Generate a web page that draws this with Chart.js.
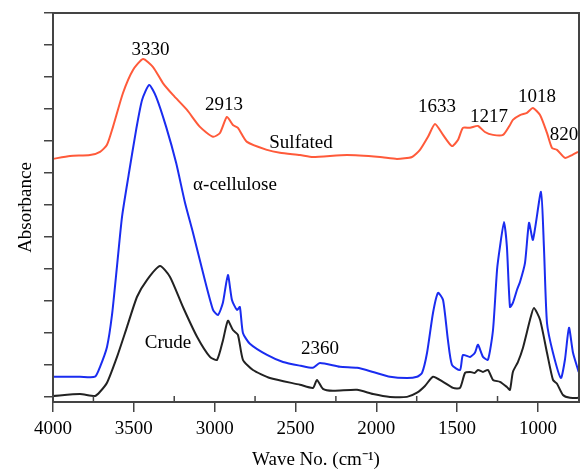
<!DOCTYPE html>
<html>
<head>
<meta charset="utf-8">
<script src="https://cdn.jsdelivr.net/npm/chart.js@4"></script>
<style>
  body { margin: 0; background: #fff; }
  #wrap { width: 582px; height: 470px; }
</style>
</head>
<body>
<div id="wrap"><canvas id="ftir" width="582" height="470"></canvas></div>
<script>
// FTIR spectra (wave number, relative absorbance)
var sulfWave = [4000,3895,3771,3709,3666,3629,3567,3505,3443,3381,3320,3258,3171,3091,3010,2967,2924,2887,2856,2800,2676,2596,2472,2392,2181,1977,1872,1779,1730,1680,1637,1587,1532,1495,1464,1420,1371,1328,1278,1216,1173,1155,1111,1068,1031,987,944,913,882,833,789,752];
var sulfAbs = [7.44,7.53,7.56,7.66,7.88,8.44,9.50,10.22,10.56,10.31,9.81,9.44,8.97,8.44,8.13,8.25,8.75,8.50,8.41,7.97,7.72,7.63,7.56,7.50,7.56,7.50,7.44,7.50,7.72,8.13,8.53,8.19,7.84,8.03,8.41,8.41,8.47,8.28,8.19,8.19,8.50,8.66,8.81,8.88,9.03,8.81,8.25,7.78,7.72,7.47,7.56,7.66];

var celWave = [4000,3833,3740,3709,3666,3635,3604,3573,3530,3486,3449,3405,3362,3300,3238,3183,3134,3072,3010,2979,2949,2918,2893,2862,2844,2825,2782,2676,2577,2466,2392,2349,2225,2119,2020,1915,1810,1748,1717,1686,1649,1618,1587,1557,1532,1482,1464,1420,1390,1371,1340,1309,1278,1253,1235,1210,1192,1173,1155,1130,1111,1080,1055,1031,981,963,944,907,858,833,808,783,748];
var celAbs = [0.63,0.63,0.63,0.94,1.56,2.56,4.09,5.63,7.00,8.34,9.28,9.75,9.38,8.44,7.31,6.06,5.13,3.88,2.72,2.56,2.94,3.81,3.03,2.72,2.81,2.00,1.66,1.31,1.09,0.97,0.91,1.06,0.94,0.91,0.78,0.63,0.59,0.63,0.75,1.38,2.63,3.25,3.03,1.78,1.00,0.84,1.31,1.25,1.38,1.63,1.25,1.16,2.09,3.97,4.69,5.47,4.69,2.81,2.94,3.34,3.59,4.19,5.44,4.91,6.41,4.69,2.31,1.38,0.59,1.16,2.16,1.38,0.78];

var crudeWave = [4000,3833,3740,3709,3666,3604,3542,3480,3418,3338,3276,3196,3109,3029,2985,2948,2918,2887,2856,2825,2763,2658,2472,2392,2367,2330,2268,2119,2020,1915,1810,1748,1699,1649,1587,1525,1482,1451,1420,1390,1371,1340,1309,1278,1235,1192,1173,1155,1124,1093,1049,1025,987,944,907,882,845,802,748];
var crudeAbs = [0.03,0.09,0.03,0.16,0.44,1.25,2.19,3.13,3.66,4.09,3.75,2.81,1.88,1.25,1.16,1.78,2.38,2.09,1.94,1.16,0.84,0.59,0.38,0.28,0.53,0.25,0.19,0.22,0.09,0.00,0.00,0.13,0.34,0.63,0.47,0.28,0.28,0.75,0.78,0.75,0.84,0.78,0.84,0.53,0.47,0.31,0.22,0.78,1.09,1.53,2.41,2.78,2.41,1.38,0.53,0.41,0.06,-0.03,-0.03];

var xTicks = [4000, 3500, 3000, 2500, 2000, 1500, 1000];
var xMinorTicks = [3750, 3250, 2750, 2250, 1750, 1250];

// peak labels and curve names
var noteText = ['3330','2913','Sulfated','\u03b1-cellulose','Crude','2360','1633','1217','1018','820'];
var noteWave = [3397,2942,2466,2874,3289,2348,1625,1303,1006,839];
var noteAbs = [10.69,8.97,7.78,6.47,1.53,1.34,8.91,8.59,9.22,8.03];

var serif = 'Liberation Serif';
var axisCol = '#444';

function pts(xs, ys) {
    return xs.map(function (x, i) { return { x: x, y: ys[i] }; });
}

var framePlugin = {
    id: 'frame',
    afterDraw: function (chart) {
        var c = chart.ctx, a = chart.chartArea, xs = chart.scales.x, ys = chart.scales.y;
        c.save();
        c.strokeStyle = axisCol;
        c.lineWidth = 2;
        c.strokeRect(a.left, a.top, a.right - a.left, a.bottom - a.top);
        // short inner ticks between the labelled ones
        c.lineWidth = 1.5;
        xMinorTicks.forEach(function (w) {
            var px = xs.getPixelForValue(w);
            c.beginPath();
            c.moveTo(px, a.bottom);
            c.lineTo(px, a.bottom - 6);
            c.stroke();
        });
        // annotations
        c.fillStyle = '#000';
        c.font = '19px "' + serif + '"';
        c.textAlign = 'center';
        c.textBaseline = 'alphabetic';
        for (var i = 0; i < noteText.length; i++) {
            c.fillText(noteText[i], xs.getPixelForValue(noteWave[i]), ys.getPixelForValue(noteAbs[i]));
        }
        c.restore();
    }
};

var ctx = document.getElementById('ftir').getContext('2d');
var chart = new Chart(ctx, {
    type: 'line',
    data: {
        datasets: [{
            label: 'Sulfated',
            data: pts(sulfWave, sulfAbs),
            borderColor: '#ff5a3a',
            borderWidth: 2,
            pointRadius: 0,
            tension: 0.2
        }, {
            label: '\u03b1-cellulose',
            data: pts(celWave, celAbs),
            borderColor: '#1a2cf0',
            borderWidth: 2,
            pointRadius: 0,
            tension: 0.2
        }, {
            label: 'Crude',
            data: pts(crudeWave, crudeAbs),
            borderColor: '#222222',
            borderWidth: 2,
            pointRadius: 0,
            tension: 0.2
        }]
    },
    options: {
        responsive: false,
        animation: false,
        layout: { padding: { top: 13, right: 3, left: 0, bottom: 0 } },
        plugins: { legend: { display: false }, tooltip: { enabled: false } },
        scales: {
            x: {
                type: 'linear',
                reverse: true,
                min: 746,
                max: 4000,
                afterBuildTicks: function (s) {
                    s.ticks = xTicks.map(function (v) { return { value: v }; });
                },
                afterFit: function (s) { s.height = 68; },
                border: { color: axisCol, width: 2 },
                grid: { drawOnChartArea: false, color: axisCol, lineWidth: 1.5, tickLength: 10 },
                ticks: {
                    maxRotation: 0,
                    autoSkip: false,
                    padding: 6,
                    color: '#000',
                    font: { family: serif, size: 19 },
                    callback: function (v) { return String(v); }
                },
                title: {
                    display: true,
                    text: 'Wave No. (cm\u207b\u00b9)',
                    color: '#000',
                    font: { family: serif, size: 19, lineHeight: 1 },
                    padding: { top: 0, bottom: 0 }
                }
            },
            y: {
                min: -0.16,
                max: 12,
                afterFit: function (s) { s.width = 53; },
                border: { color: axisCol, width: 2 },
                grid: { drawOnChartArea: false, color: axisCol, lineWidth: 1.5, tickLength: 9 },
                ticks: { display: false, stepSize: 1, includeBounds: false },
                title: {
                    display: true,
                    text: 'Absorbance',
                    color: '#000',
                    font: { family: serif, size: 19, lineHeight: 1.2 },
                    padding: { top: 15, bottom: 0 }
                }
            }
        }
    },
    plugins: [framePlugin]
});
</script>
</body>
</html>
